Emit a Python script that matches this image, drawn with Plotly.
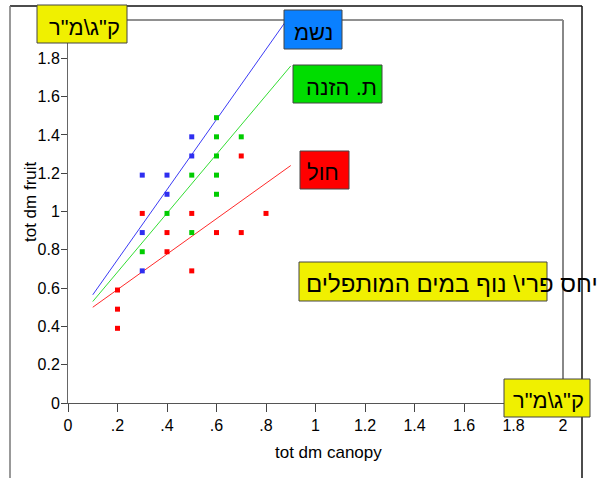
import plotly.graph_objects as go

# ---- data ----
blue_x = [0.3, 0.3, 0.3, 0.4, 0.4, 0.5, 0.5]
blue_y = [1.19, 0.89, 0.69, 1.19, 1.09, 1.39, 1.29]
green_x = [0.3, 0.4, 0.5, 0.5, 0.6, 0.6, 0.6, 0.6, 0.6, 0.7]
green_y = [0.79, 0.99, 0.89, 1.19, 1.49, 1.39, 1.29, 1.19, 1.09, 1.39]
red_x = [0.2, 0.2, 0.2, 0.3, 0.4, 0.4, 0.5, 0.5, 0.6, 0.7, 0.7, 0.8]
red_y = [0.59, 0.49, 0.39, 0.99, 0.89, 0.79, 0.99, 0.69, 0.89, 1.29, 0.89, 0.99]
fit_x = [0.1, 0.9]
blue_fit = [0.565, 2.03]
green_fit = [0.53, 1.76]
red_fit = [0.50, 1.24]

x_ticks = [0, 0.2, 0.4, 0.6, 0.8, 1, 1.2, 1.4, 1.6, 1.8, 2]
x_ticktext = ["0", ".2", ".4", ".6", ".8", "1", "1.2", "1.4", "1.6", "1.8", "2"]
y_ticks = [0, 0.2, 0.4, 0.6, 0.8, 1, 1.2, 1.4, 1.6, 1.8]
y_ticktext = ["0", "0.2", "0.4", "0.6", "0.8", "1", "1.2", "1.4", "1.6", "1.8"]

label_unit = 'ק"ג\\מ"ר'
label_blue = "נשמ"
label_green = "ת. הזנה"
label_red = "חול"
label_title = "יחס פרי\\ נוף במים המותפלים"

FONT = "Liberation Sans, Arial, sans-serif"
W, H = 604, 478
L, R, T, B = 68, 41, 20, 75
PW, PH = W - L - R, H - T - B


def px(x):
    return (x - L) / PW


def py(y):
    return (H - B - y) / PH


fig = go.Figure()
for xs, ys, col in [(fit_x, blue_fit, "#3B3BF5"), (fit_x, green_fit, "#33DD33"), (fit_x, red_fit, "#FF2A2A")]:
    fig.add_trace(go.Scatter(x=xs, y=ys, mode="lines", line=dict(color=col, width=1), hoverinfo="skip"))
for xs, ys, col in [(blue_x, blue_y, "#2E2EF0"), (green_x, green_y, "#00CC00"), (red_x, red_y, "#FF0000")]:
    fig.add_trace(go.Scatter(x=xs, y=ys, mode="markers",
                             marker=dict(symbol="square", size=5, color=col, line=dict(width=0))))

shapes = []
# frames
shapes.append(dict(type="line", xref="paper", yref="paper", x0=0, x1=1, y0=1, y1=1,
                   line=dict(color="#222", width=1)))
shapes.append(dict(type="line", xref="paper", yref="paper", x0=1, x1=1, y0=0, y1=1,
                   line=dict(color="#888", width=2)))
shapes.append(dict(type="line", xref="paper", yref="paper", x0=px(10), x1=px(582), y0=py(6), y1=py(6),
                   line=dict(color="#111", width=1.5)))
shapes.append(dict(type="line", xref="paper", yref="paper", x0=px(10), x1=px(10), y0=py(6), y1=py(480),
                   line=dict(color="#777", width=1.5)))
shapes.append(dict(type="line", xref="paper", yref="paper", x0=px(582), x1=px(582), y0=py(6), y1=py(480),
                   line=dict(color="#111", width=1.5)))


def box(x0, y0, x1, y1, color):
    shapes.append(dict(type="rect", xref="paper", yref="paper", layer="above",
                       x0=px(x0), x1=px(x1), y0=py(y1), y1=py(y0),
                       fillcolor=color, line=dict(color="#444", width=1)))


box(37, 5, 127, 43, "#F0F000")
box(504, 379, 590, 417, "#F0F000")
box(284, 10, 342, 49, "#0A80FF")
box(293, 65, 382, 103, "#00DD00")
box(300, 151, 349, 189, "#FF0000")
box(299, 262, 547, 301, "#F0F000")

annotations = []


def text(s, x, y, anchor="center", size=22):
    annotations.append(dict(text=s, xref="paper", yref="paper", x=px(x), y=py(y),
                            xanchor=anchor, yanchor="middle", showarrow=False,
                            font=dict(family=FONT, size=size, color="black")))


text(label_unit, 84, 28)
text(label_unit, 548, 400)
text(label_blue, 313.5, 33)
text(label_green, 341, 87)
text(label_red, 323, 172)
text(label_title, 304, 283, anchor="left", size=24)

annotations.append(dict(text="tot dm canopy", xref="paper", yref="paper", x=px(328), y=py(452),
                        xanchor="center", yanchor="middle", showarrow=False,
                        font=dict(family=FONT, size=17, color="black")))
annotations.append(dict(text="tot dm fruit", xref="paper", yref="paper", x=px(30), y=py(202),
                        xanchor="center", yanchor="middle", showarrow=False, textangle=-90,
                        font=dict(family=FONT, size=17, color="black")))

fig.update_layout(
    width=W, height=H, margin=dict(l=L, r=R, t=T, b=B),
    paper_bgcolor="white", plot_bgcolor="white", showlegend=False,
    font=dict(family=FONT, size=16, color="black"),
    shapes=shapes, annotations=annotations,
    xaxis=dict(range=[0, 2], tickvals=x_ticks, ticktext=x_ticktext, showgrid=False, zeroline=False,
               showline=True, linecolor="#555", linewidth=1, ticks="outside", ticklen=8,
               tickcolor="#444", tickfont=dict(size=16, family=FONT, color="black")),
    yaxis=dict(range=[0, 2], tickvals=y_ticks, ticktext=y_ticktext, showgrid=False, zeroline=False,
               showline=True, linecolor="#666", linewidth=1, ticks="outside", ticklen=6,
               tickcolor="#444", tickfont=dict(size=16, family=FONT, color="black"),
               ticklabelstandoff=-2),
)

fig.write_html("out.html")
